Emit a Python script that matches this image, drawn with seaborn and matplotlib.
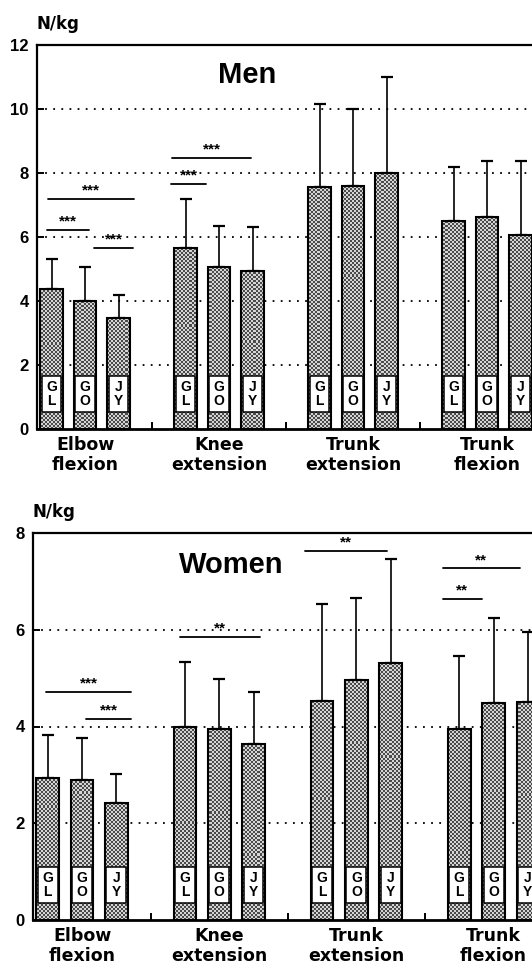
import numpy as np
import pandas as pd
import matplotlib
matplotlib.use("Agg")
import matplotlib.pyplot as plt
import seaborn as sns
from matplotlib.patches import Rectangle
import matplotlib.transforms as mtransforms

sns.set_style("white")
plt.rcParams["font.family"] = ["Liberation Sans", "DejaVu Sans"]
for k in ["text.color", "axes.labelcolor", "xtick.color", "ytick.color"]:
    plt.rcParams[k] = "black"

# ---------------- data ----------------
groups = ["Elbow\nflexion", "Knee\nextension", "Trunk\nextension", "Trunk\nflexion"]
subgroups = ["G\nL", "G\nO", "J\nY"]

men_mean = [4.38, 4.00, 3.47, 5.66, 5.06, 4.94, 7.56, 7.60, 8.00, 6.50, 6.62, 6.06]
men_sd = [0.92, 1.06, 0.72, 1.53, 1.29, 1.36, 2.60, 2.40, 3.00, 1.69, 1.75, 2.31]

women_mean = [2.93, 2.89, 2.42, 4.00, 3.94, 3.64, 4.52, 4.96, 5.31, 3.95, 4.48, 4.50]
women_sd = [0.89, 0.87, 0.60, 1.33, 1.04, 1.07, 2.01, 1.69, 2.15, 1.50, 1.76, 1.45]

men_yticks = [0, 2, 4, 6, 8, 10, 12]
women_yticks = [0, 2, 4, 6, 8]

# significance brackets: (x start, x end, height, label)
men_sig = [(-1.13, 0.12, 6.22, "***"), (-1.10, 1.46, 7.19, "***"),
           (0.27, 1.43, 5.65, "***"), (2.57, 3.61, 7.65, "***"),
           (2.60, 4.96, 8.47, "***")]
women_sig = [(-1.05, 1.43, 4.71, "***"), (0.12, 1.43, 4.15, "***"),
             (2.86, 5.19, 5.85, "**"), (6.50, 8.89, 7.63, "**"),
             (10.52, 12.77, 7.27, "**"), (10.52, 11.66, 6.63, "**")]

W, H = 532, 973
fig = plt.figure(figsize=(W / 100, H / 100), dpi=100)


def checker(nx, ny):
    ii, jj = np.meshgrid(np.arange(nx), np.arange(ny))
    a = ((ii + jj) % 2).astype(float)
    return a


def panel(rect, mean, sd, yticks, xlim, sig, title, title_px):
    ax = fig.add_axes(rect)
    pos = [4 * g + j - 1 for g in range(len(groups)) for j in range(len(subgroups))]
    df = pd.DataFrame({"pos": pos, "value": mean})
    sns.barplot(data=df, x="pos", y="value", native_scale=True, width=0.66,
                color="#a0a0a0", saturation=1, edgecolor="black", linewidth=1.5,
                errorbar=None, ax=ax, zorder=2)
    ax.set_xlim(*xlim)
    ax.set_ylim(yticks[0], yticks[-1])

    # stippled fill: fine checkerboard clipped to each bar
    wpx = rect[2] * W
    hpx = rect[3] * H
    pat = checker(int(wpx / 2), int(hpx / 2))
    cmap = matplotlib.colors.ListedColormap(["#d4d4d4", "#4a4a4a"])
    for p in list(ax.patches):
        p.set_facecolor("none")
        im = ax.imshow(pat, extent=(xlim[0], xlim[1], yticks[0], yticks[-1]),
                       cmap=cmap, interpolation="nearest", aspect="auto",
                       origin="lower", zorder=1.9)
        im.set_clip_path(p)
    ax.set_xlim(*xlim)
    ax.set_ylim(yticks[0], yticks[-1])

    ax.errorbar(pos, mean, yerr=[np.zeros(len(sd)), sd], fmt="none",
                ecolor="black", elinewidth=1.2, capsize=4.3, capthick=1.6, zorder=1)
    ax.set_xlabel("")
    ax.set_ylabel("")
    for yv in yticks[1:-1]:
        ax.axhline(yv, color="black", lw=1.3, ls=(0, (1, 3.5)), zorder=0)
    ax.set_yticks(yticks)
    ax.set_yticklabels([str(v) for v in yticks], fontsize=12, fontweight="bold")
    seps = [4 * g + 2 for g in range(len(groups) - 1)]
    ax.set_xticks(sorted(pos + seps))
    ax.set_xticklabels([])
    ax.tick_params(axis="both", direction="in", length=5, width=1.4, pad=6,
                   left=True, bottom=True)
    for s in ["left", "bottom", "top"]:
        ax.spines[s].set_visible(True)
        ax.spines[s].set_color("black")
    ax.spines["left"].set_linewidth(1.6)
    ax.spines["bottom"].set_linewidth(2.0)
    ax.spines["top"].set_linewidth(1.6)
    ax.spines["right"].set_visible(False)

    trans = mtransforms.blended_transform_factory(ax.transData, ax.transAxes)
    for i, x in enumerate(pos):
        ax.add_patch(Rectangle((x - 0.29, 0.044), 0.58, 0.093, transform=trans,
                               facecolor="white", edgecolor="black", lw=1.1, zorder=3))
        ax.text(x, 0.0905, subgroups[i % 3], transform=trans, ha="center",
                va="center", fontsize=10, fontweight="bold", linespacing=1.0, zorder=4)

    for g, name in enumerate(groups):
        ax.annotate(name, xy=(4 * g, 0), xycoords=trans, xytext=(0, -5),
                    textcoords="offset points", ha="center", va="top",
                    fontsize=12.5, fontweight="bold", family="DejaVu Sans",
                    linespacing=1.12, annotation_clip=False)

    for x0, x1, y, lab in sig:
        ax.plot([x0, x1], [y, y], color="black", lw=1.3, zorder=3)
        ax.annotate(lab, xy=((x0 + x1) / 2, y), xytext=(0, 6),
                    textcoords="offset points", ha="center", va="center",
                    fontsize=11, fontweight="bold")

    fig.text(title_px[0] / W, 1 - title_px[1] / H, title, ha="center",
             va="center", fontsize=21, fontweight="bold")
    return ax


# top panel (Men): axis left 37px, top 45px, bottom 429px
panel([37 / W, 1 - 429 / H, (W - 37) / W, 384 / H], men_mean, men_sd,
      men_yticks, (-1.433, 13.343), men_sig, "Men", (247, 75))
fig.text(37 / W, 1 - 24 / H, "N/kg", ha="left", va="center", fontsize=12,
         fontweight="bold", family="DejaVu Sans")

# bottom panel (Women): axis left 33px, top 533px, bottom 920px
panel([33 / W, 1 - 920 / H, (W - 33) / W, 387 / H], women_mean, women_sd,
      women_yticks, (-1.43, 13.12), women_sig, "Women", (231, 565))
fig.text(32 / W, 1 - 512 / H, "N/kg", ha="left", va="center", fontsize=12,
         fontweight="bold", family="DejaVu Sans")

fig.savefig("out.png", dpi=100)
